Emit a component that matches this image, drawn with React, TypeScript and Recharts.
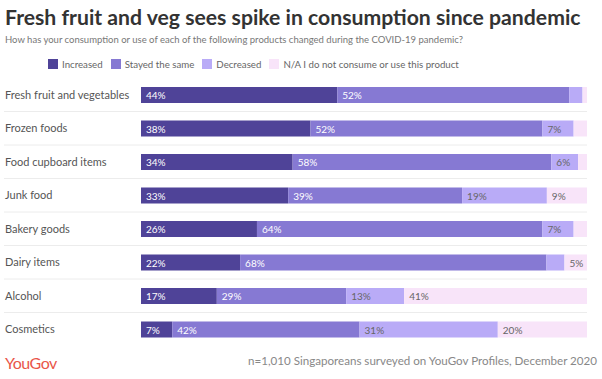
import React from 'react';
import { BarChart, Bar, XAxis, YAxis, LabelList } from 'recharts';

const categories = [
  'Fresh fruit and vegetables',
  'Frozen foods',
  'Food cupboard items',
  'Junk food',
  'Bakery goods',
  'Dairy items',
  'Alcohol',
  'Cosmetics',
];
const increased = [44, 38, 34, 33, 26, 22, 17, 7];
const stayed = [52, 52, 58, 39, 64, 68, 29, 42];
const decreased = [3, 7, 6, 19, 7, 4, 13, 31];
const notApplicable = [1, 3, 2, 9, 3, 5, 41, 20];

const seriesNames = ['Increased', 'Stayed the same', 'Decreased', 'N/A I do not consume or use this product'];
const colors = ['#4f4398', '#8679d3', '#b9abf7', '#f8e4f9'];
const labelColors = ['#ffffff', '#ffffff', '#666666', '#666666'];
const keys = ['inc', 'same', 'dec', 'na'];

const data = categories.map((name, i) => ({
  name,
  inc: increased[i],
  same: stayed[i],
  dec: decreased[i],
  na: notApplicable[i],
}));

const FONT = 'Lato, "Open Sans", sans-serif';
const TOP = 78;
const BOTTOM = 33;
const HEIGHT = 379;
const BAND = (HEIGHT - TOP - BOTTOM) / categories.length;

const CategoryTick = (props: any) => {
  const { y, payload, index } = props;
  return (
    <g>
      <text x={5} y={y} dy={4} fontSize={11} fill="#555" fontFamily={FONT} textAnchor="start">
        {payload.value}
      </text>
      {index < categories.length - 1 && (
        <line x1={4} x2={587} y1={y + BAND / 2} y2={y + BAND / 2} stroke="#ececec" strokeWidth={1} />
      )}
    </g>
  );
};

const makeLabel = (color: string) => (props: any) => {
  const { x, y, height, value } = props;
  if (value < 5) return null;
  return (
    <text x={x + 5} y={y + height / 2} dy={4} fontSize={10} fill={color} fontFamily={FONT}>
      {value}%
    </text>
  );
};

export default function App() {
  return (
    <div style={{ position: 'relative', width: 602, height: 379, background: '#fff', fontFamily: FONT, overflow: 'hidden' }}>
      <style>{'body{margin:0}'}</style>
      <div style={{ position: 'absolute', left: 5, top: 4, fontSize: 21.2, fontWeight: 700, color: '#333', whiteSpace: 'nowrap' }}>
        Fresh fruit and veg sees spike in consumption since pandemic
      </div>
      <div style={{ position: 'absolute', left: 5, top: 34, fontSize: 9.5, color: '#777', whiteSpace: 'nowrap' }}>
        How has your consumption or use of each of the following products changed during the COVID-19 pandemic?
      </div>
      <div style={{ position: 'absolute', left: 48, top: 58, display: 'flex', fontSize: 9.7, color: '#666', whiteSpace: 'nowrap' }}>
        {seriesNames.map((s, i) => (
          <div key={s} style={{ display: 'flex', alignItems: 'center', marginRight: 8 }}>
            <span style={{ display: 'inline-block', width: 10, height: 10, background: colors[i], marginRight: 4 }} />
            <span>{s}</span>
          </div>
        ))}
      </div>
      <div style={{ position: 'absolute', left: 0, top: 0 }}>
        <BarChart
          width={602}
          height={HEIGHT}
          data={data}
          layout="vertical"
          stackOffset="expand"
          barCategoryGap={9}
          margin={{ top: TOP, right: 15, bottom: BOTTOM, left: 0 }}
        >
          <XAxis type="number" hide domain={[0, 1]} />
          <YAxis
            type="category"
            dataKey="name"
            width={141}
            axisLine={false}
            tickLine={false}
            tick={<CategoryTick />}
            interval={0}
          />
          {keys.map((k, i) => (
            <Bar key={k} dataKey={k} stackId="a" fill={colors[i]} isAnimationActive={false}>
              <LabelList dataKey={k} content={makeLabel(labelColors[i])} />
            </Bar>
          ))}
        </BarChart>
      </div>
      <div style={{ position: 'absolute', left: 5, top: 353, fontSize: 16, color: '#e9564a', letterSpacing: -0.5 }}>
        YouGov
      </div>
      <div style={{ position: 'absolute', right: 5, top: 354, fontSize: 11.6, color: '#888', whiteSpace: 'nowrap' }}>
        n=1,010 Singaporeans surveyed on YouGov Profiles, December 2020
      </div>
    </div>
  );
}
